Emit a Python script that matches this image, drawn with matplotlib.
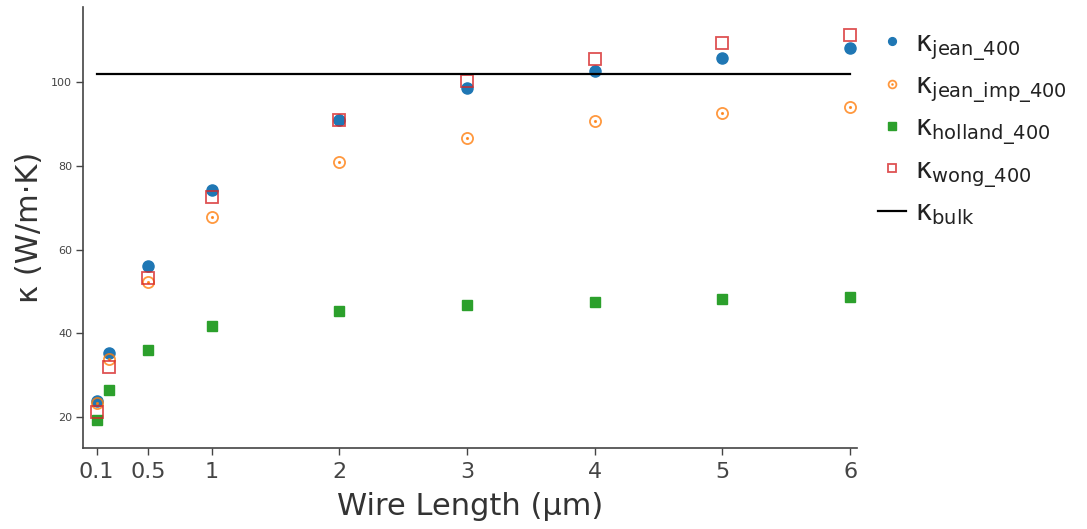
import matplotlib
matplotlib.use("Agg")
import matplotlib.pyplot as plt
from matplotlib.legend_handler import HandlerTuple

plt.rcParams['font.family'] = ['DejaVu Sans']
plt.rcParams['mathtext.default'] = 'regular'

# lunghezze dei fili (um) e conducibilita' termica (W/m.K)
L = [0.1, 0.2, 0.5, 1, 2, 3, 4, 5, 6]
k_jean = [23.8, 35.3, 56.0, 74.2, 91.0, 98.6, 102.8, 105.8, 108.2]
k_jean_imp = [23.2, 33.7, 52.3, 67.7, 80.9, 86.8, 90.7, 92.6, 94.1]
k_holland = [19.2, 26.3, 36.0, 41.6, 45.2, 46.8, 47.5, 48.1, 48.6]
k_wong = [21.0, 31.8, 53.2, 72.5, 91.1, 100.3, 105.7, 109.4, 111.3]
k_bulk = 102.0

xtick_pos = [0.1, 0.5, 1, 2, 3, 4, 5, 6]
xtick_lab = ['0.1', '0.5', '1', '2', '3', '4', '5', '6']
ytick_pos = [20, 40, 60, 80, 100]

fig = plt.figure(figsize=(10.87, 5.29), dpi=100)
ax = fig.add_axes([0.0766, 0.1526, 0.7114, 0.8336])

ms = 8
h1, = ax.plot(L, k_jean, 'o', color='#1f77b4', ms=ms, mec='#1f77b4', ls='none')
h2a, = ax.plot(L, k_jean_imp, 'o', mfc='none', mec='#ff7f0e', mew=1.3, ms=ms, alpha=0.8, ls='none')
h2b, = ax.plot(L, k_jean_imp, '.', color='#ff7f0e', ms=2.5, alpha=0.8, ls='none')
h3, = ax.plot(L, k_holland, 's', color='#2ca02c', ms=ms - 0.5, ls='none')
h4, = ax.plot(L, k_wong, 's', mfc='none', mec='#d62728', mew=1.3, ms=ms, alpha=0.8, ls='none')
h5, = ax.plot([L[0], L[-1]], [k_bulk, k_bulk], color='black', lw=1.6)

ax.set_xlim(-0.005, 6.05)
ax.set_ylim(12.4, 118)

for s in ['top', 'right']:
    ax.spines[s].set_visible(False)
for s in ['left', 'bottom']:
    ax.spines[s].set_color('#444444')
    ax.spines[s].set_linewidth(1.2)

ax.set_xticks(xtick_pos)
ax.set_xticklabels(xtick_lab)
ax.set_yticks(ytick_pos)
ax.tick_params(axis='x', direction='out', length=5, width=1, color='#444444',
               labelsize=16, labelcolor='#444444', pad=5)
ax.tick_params(axis='y', direction='out', length=5, width=1, color='#444444',
               labelsize=8, labelcolor='#444444', pad=3)

ax.set_xlabel('Wire Length (μm)', fontsize=22, color='#333333', va='center')
ax.xaxis.set_label_coords(0.5, -0.133)
ax.set_ylabel('κ (W/m·K)', fontsize=22, color='#333333', va='center')
ax.yaxis.set_label_coords(-0.069, 0.5)

labels = [r'$\kappa_{jean\_400}$', r'$\kappa_{jean\_imp\_400}$',
          r'$\kappa_{holland\_400}$', r'$\kappa_{wong\_400}$', r'$\kappa_{bulk}$']
leg = fig.legend([h1, (h2a, h2b), h3, h4, h5], labels,
                 handler_map={tuple: HandlerTuple(ndivide=1)},
                 loc='upper left', bbox_to_anchor=(0.7926, 0.977), frameon=False,
                 fontsize=20, markerscale=0.7, handlelength=1.0,
                 handletextpad=0.33, labelspacing=0.31, borderaxespad=0.2)
for t in leg.get_texts():
    t.set_color('#222222')

fig.savefig('out.png', dpi=100)
